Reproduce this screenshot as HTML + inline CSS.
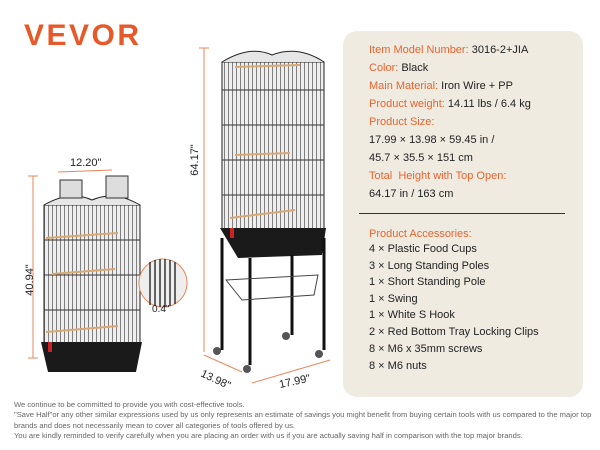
<!DOCTYPE html>
<html><head><style>
body{margin:0;width:600px;height:450px;background:#fff;position:relative;overflow:hidden;font-family:"Liberation Sans",sans-serif}
.logo{position:absolute;left:24px;top:19px;font-size:30px;font-weight:bold;color:#e8592a;letter-spacing:2.5px}
.panel{position:absolute;left:343px;top:31px;width:240px;height:366px;background:#efebe1;border-radius:14px}
.t{position:absolute;left:369px;font-size:11px;color:#222;white-space:nowrap}
.o{color:#e8632e}
.foot{position:absolute;left:14px;top:400px;font-size:7.6px;color:#666;line-height:10.4px;width:590px}
</style></head><body>
<div class="logo">VEVOR</div>
<div class="panel"></div>
<div class="t" style="top:44px"><span class="o">Item Model Number:</span> 3016-2+JIA</div>
<div class="t" style="top:62px"><span class="o">Color:</span> Black</div>
<div class="t" style="top:80px"><span class="o">Main Material:</span> Iron Wire + PP</div>
<div class="t" style="top:98px"><span class="o">Product weight:</span> 14.11 lbs / 6.4 kg</div>
<div class="t o" style="top:116px">Product Size:</div>
<div class="t" style="top:134px">17.99 × 13.98 × 59.45 in /</div>
<div class="t" style="top:152px">45.7 × 35.5 × 151 cm</div>
<div class="t o" style="top:170px">Total&nbsp; Height with Top Open:</div>
<div class="t" style="top:188px">64.17 in / 163 cm</div>
<div style="position:absolute;left:359px;top:213px;width:206px;height:1px;background:#333"></div>
<div class="t o" style="top:228px">Product Accessories:</div>
<div class="t" style="top:243px">4 × Plastic Food Cups</div>
<div class="t" style="top:260px">3 × Long Standing Poles</div>
<div class="t" style="top:276px">1 × Short Standing Pole</div>
<div class="t" style="top:293px">1 × Swing</div>
<div class="t" style="top:309px">1 × White S Hook</div>
<div class="t" style="top:326px">2 × Red Bottom Tray Locking Clips</div>
<div class="t" style="top:343px">8 × M6 x 35mm screws</div>
<div class="t" style="top:360px">8 × M6 nuts</div>
<svg style="position:absolute;left:0;top:0" width="345" height="400">
<defs>
<pattern id="w" width="4" height="200" patternUnits="userSpaceOnUse"><rect width="4" height="200" fill="#eeeeee"/><rect width="1" height="200" fill="#808080"/></pattern>
</defs>
<!-- left cage -->
<rect x="44" y="205" width="96" height="140" fill="url(#w)" stroke="#222"/>
<path d="M44 205 Q70 190 92 200 Q115 190 140 205" fill="#e6e6e6" stroke="#222"/>
<rect x="60" y="180" width="22" height="18" fill="#ddd" stroke="#333"/>
<rect x="106" y="176" width="22" height="22" fill="#ddd" stroke="#333"/>
<g stroke="#333"><line x1="44" y1="240" x2="140" y2="240"/><line x1="44" y1="275" x2="140" y2="275"/><line x1="44" y1="310" x2="140" y2="310"/></g>
<g stroke="#d9a874" stroke-width="2"><line x1="46" y1="238" x2="118" y2="233"/><line x1="52" y1="274" x2="115" y2="269"/><line x1="46" y1="332" x2="118" y2="326"/></g>
<path d="M41 342 L142 342 L136 372 L48 372 Z" fill="#1a1a1a"/>
<rect x="48" y="342" width="4" height="10" fill="#c22"/>
<g stroke="#e8875a" fill="none" stroke-width="1"><line x1="58" y1="172" x2="112" y2="170"/><line x1="33" y1="176" x2="33" y2="358"/><line x1="28" y1="176" x2="38" y2="176"/><line x1="28" y1="358" x2="38" y2="358"/>
<circle cx="163" cy="283" r="24" fill="#eee" stroke="#e8875a"/></g>
<g stroke="#333" stroke-width="1.5"><line x1="150" y1="262" x2="150" y2="305"/><line x1="155" y1="260" x2="155" y2="306"/><line x1="160" y1="259" x2="160" y2="307"/><line x1="165" y1="259" x2="165" y2="307"/><line x1="170" y1="260" x2="170" y2="306"/><line x1="175" y1="262" x2="175" y2="304"/></g>
<text x="152" y="312" font-size="10" fill="#222" font-family="Liberation Sans">0.4"</text>
<text x="70" y="166" font-size="11" fill="#222" font-family="Liberation Sans">12.20"</text>
<text transform="translate(33,280) rotate(-90)" font-size="11" fill="#222" text-anchor="middle" font-family="Liberation Sans">40.94"</text>
<!-- right cage -->
<rect x="222" y="62" width="102" height="168" fill="url(#w)" stroke="#222"/>
<path d="M222 62 Q250 45 272 55 Q298 45 324 62" fill="#e6e6e6" stroke="#222"/>
<g stroke="#333"><line x1="222" y1="90" x2="324" y2="90"/><line x1="222" y1="125" x2="324" y2="125"/><line x1="222" y1="160" x2="324" y2="160"/><line x1="222" y1="195" x2="324" y2="195"/></g>
<g stroke="#d9a874" stroke-width="2"><line x1="235" y1="67" x2="300" y2="65"/><line x1="235" y1="155" x2="290" y2="153"/><line x1="230" y1="218" x2="295" y2="210"/></g>
<path d="M220 228 L326 228 L322 255 L238 258 Z" fill="#1a1a1a"/>
<rect x="230" y="228" width="4" height="10" fill="#c22"/>
<g stroke="#111" stroke-width="3"><line x1="222" y1="238" x2="222" y2="350"/><line x1="250" y1="258" x2="250" y2="365"/><line x1="292" y1="255" x2="292" y2="335"/><line x1="324" y1="238" x2="324" y2="350"/></g>
<path d="M226 280 L318 275 L314 295 L242 300 Z" fill="none" stroke="#444"/>
<g fill="#555"><circle cx="217" cy="351" r="4"/><circle cx="247" cy="369" r="4"/><circle cx="286" cy="336" r="4"/><circle cx="319" cy="354" r="4"/></g>
<g stroke="#e8875a" fill="none"><line x1="204" y1="48" x2="204" y2="352"/><line x1="199" y1="48" x2="209" y2="48"/><line x1="204" y1="355" x2="242" y2="372"/><line x1="252" y1="383" x2="330" y2="360"/></g>
<text transform="translate(198,160) rotate(-90)" font-size="11" fill="#222" text-anchor="middle" font-family="Liberation Sans">64.17"</text>
<text transform="translate(200,376) rotate(25)" font-size="11" fill="#222" font-family="Liberation Sans">13.98"</text>
<text transform="translate(280,388) rotate(-12)" font-size="11" fill="#222" font-family="Liberation Sans">17.99"</text>
</svg>
<div class="foot">We continue to be committed to provide you with cost-effective tools.<br>"Save Half"or any other similar expressions used by us only represents an estimate of savings you might benefit from buying certain tools with us compared to the major top brands and does not necessarily mean to cover all categories of tools offered by us.<br>You are kindly reminded to verify carefully when you are placing an order with us if you are actually saving half in comparison with the top major brands.</div>
</body></html>
